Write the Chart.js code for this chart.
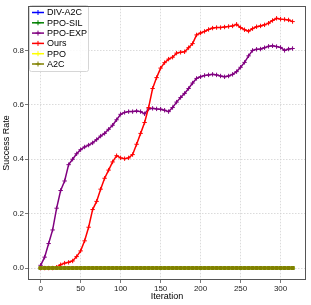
<!DOCTYPE html>
<html>
<head>
<meta charset="utf-8">
<script src="https://cdn.jsdelivr.net/npm/chart.js@4"></script>
<style>
  html, body { margin: 0; padding: 0; background: #fff; }
  canvas { display: block; }
</style>
</head>
<body>
<canvas id="chart" width="311" height="305"></canvas>
<script>
// iterations sampled every 5 steps
const iterations = [];
for (let i = 0; i <= 315; i += 5) iterations.push(i);

const seriesLabels = ['DIV-A2C', 'PPO-SIL', 'PPO-EXP', 'Ours', 'PPO', 'A2C'];
const seriesColors = ['#0000ff', '#008000', '#800080', '#ff0000', '#ffff00', '#808000'];

const oursValues = [
  0, 0, 0, 0, 0.003, 0.012, 0.018, 0.021, 0.026, 0.042,
  0.063, 0.10, 0.15, 0.215, 0.245, 0.29, 0.33, 0.36, 0.39, 0.413,
  0.405, 0.402, 0.405, 0.417, 0.455, 0.495, 0.535, 0.59, 0.66, 0.70,
  0.735, 0.755, 0.768, 0.775, 0.79, 0.793, 0.795, 0.81, 0.825, 0.857,
  0.864, 0.87, 0.877, 0.882, 0.884, 0.884, 0.886, 0.888, 0.89, 0.896,
  0.884, 0.876, 0.871, 0.88, 0.887, 0.89, 0.894, 0.9, 0.91, 0.918,
  0.915, 0.914, 0.912, 0.906
];
const ppoExpValues = [
  0.01, 0.04, 0.09, 0.14, 0.22, 0.285, 0.32, 0.38, 0.40, 0.42,
  0.435, 0.445, 0.452, 0.46, 0.472, 0.485, 0.495, 0.51, 0.525, 0.545,
  0.565, 0.572, 0.575, 0.575, 0.577, 0.575, 0.567, 0.585, 0.587, 0.585,
  0.584, 0.58, 0.575, 0.59, 0.61, 0.627, 0.642, 0.66, 0.68, 0.697,
  0.703, 0.708, 0.71, 0.712, 0.71, 0.706, 0.703, 0.706, 0.712, 0.722,
  0.738, 0.756, 0.78, 0.80, 0.804, 0.805, 0.81, 0.815, 0.817, 0.814,
  0.811, 0.80, 0.805, 0.807
];
const divA2cValues = iterations.map(() => 0);
const ppoSilValues = iterations.map(() => 0);
const ppoValues = iterations.map(() => 0);
const a2cValues = iterations.map(() => 0);

const xTickValues = [0, 50, 100, 150, 200, 250, 300];
const yTickValues = [0, 0.2, 0.4, 0.6, 0.8];

const seriesValues = [divA2cValues, ppoSilValues, ppoExpValues, oursValues, ppoValues, a2cValues];

const FONT = "'Liberation Sans', Arial, Helvetica, sans-serif";

// chart.js paints dataset 0 last, so feed them reversed to keep A2C on top like matplotlib
const datasets = seriesLabels.map((label, k) => {
  const flat = seriesValues[k].every(v => v === 0);
  return {
    label,
    data: iterations.map((x, i) => ({ x, y: seriesValues[k][i] })),
    borderColor: seriesColors[k],
    backgroundColor: seriesColors[k],
    borderWidth: 1.5,
    pointStyle: 'cross',
    // the flat runs overlap into a solid band in the original
    pointRadius: flat ? 2 : 2.2,
    pointBorderWidth: flat ? 3 : 1,
    pointHoverRadius: 0,
    tension: 0,
    fill: false
  };
}).reverse();

const frameAndLegend = {
  id: 'frameAndLegend',
  afterDatasetsDraw(chart) {
    const { ctx, chartArea: a } = chart;
    ctx.save();
    // legend box, top-left inside the axes
    const bx = 29.5, by = 5.5, bw = 59, bh = 66;
    ctx.fillStyle = 'rgba(255,255,255,0.85)';
    ctx.strokeStyle = '#d6d6d6';
    ctx.lineWidth = 1;
    ctx.beginPath();
    ctx.roundRect(bx, by, bw, bh, 2);
    ctx.fill();
    ctx.stroke();
    ctx.font = '9px ' + FONT;
    ctx.textBaseline = 'middle';
    seriesLabels.forEach((label, k) => {
      const y = 12.5 + k * 10.3;
      ctx.strokeStyle = seriesColors[k];
      ctx.lineWidth = 1.5;
      ctx.beginPath();
      ctx.moveTo(32, y);
      ctx.lineTo(44, y);
      ctx.stroke();
      ctx.lineWidth = 1;
      ctx.beginPath();
      ctx.moveTo(38, y - 2.5); ctx.lineTo(38, y + 2.5);
      ctx.moveTo(35.5, y); ctx.lineTo(40.5, y);
      ctx.stroke();
      ctx.fillStyle = '#000';
      ctx.fillText(label, 47, y + 0.5);
    });
    // axes frame on all four sides
    ctx.strokeStyle = '#555';
    ctx.lineWidth = 1;
    ctx.strokeRect(Math.round(a.left) + 0.5, Math.round(a.top) + 0.5,
      Math.round(a.right - a.left) - 1, Math.round(a.bottom - a.top) - 1);
    ctx.restore();
  }
};

new Chart(document.getElementById('chart'), {
  type: 'line',
  data: { datasets },
  options: {
    responsive: false,
    animation: false,
    devicePixelRatio: 1,
    layout: { padding: { top: 3, right: 4, left: 0, bottom: 0 } },
    plugins: { legend: { display: false }, tooltip: { enabled: false } },
    scales: {
      x: {
        type: 'linear',
        min: -15.8,
        max: 331.8,
        afterBuildTicks: s => { s.ticks = xTickValues.map(v => ({ value: v })); },
        afterFit: s => { s.height = 25; },
        grid: { color: '#d2d2d2', lineWidth: 0.8, tickColor: '#555', tickLength: 3, drawTicks: true },
        border: { display: false, dash: [1.5, 1.5] },
        ticks: { color: '#222', font: { family: FONT, size: 8 }, padding: 1, maxRotation: 0 },
        title: { display: true, text: 'Iteration', color: '#000', font: { family: FONT, size: 9 }, padding: { top: 0, bottom: 3 } }
      },
      y: {
        min: -0.044,
        max: 0.964,
        afterBuildTicks: s => { s.ticks = yTickValues.map(v => ({ value: v })); },
        afterFit: s => { s.width = 28; },
        grid: { color: '#d2d2d2', lineWidth: 0.8, tickColor: '#555', tickLength: 3, drawTicks: true },
        border: { display: false, dash: [1.5, 1.5] },
        ticks: { color: '#222', font: { family: FONT, size: 8 }, padding: 1, callback: v => v.toFixed(1) },
        title: { display: true, text: 'Success Rate', color: '#000', font: { family: FONT, size: 9 }, padding: { top: 1, bottom: 0 } }
      }
    }
  },
  plugins: [frameAndLegend]
});
</script>
</body>
</html>
